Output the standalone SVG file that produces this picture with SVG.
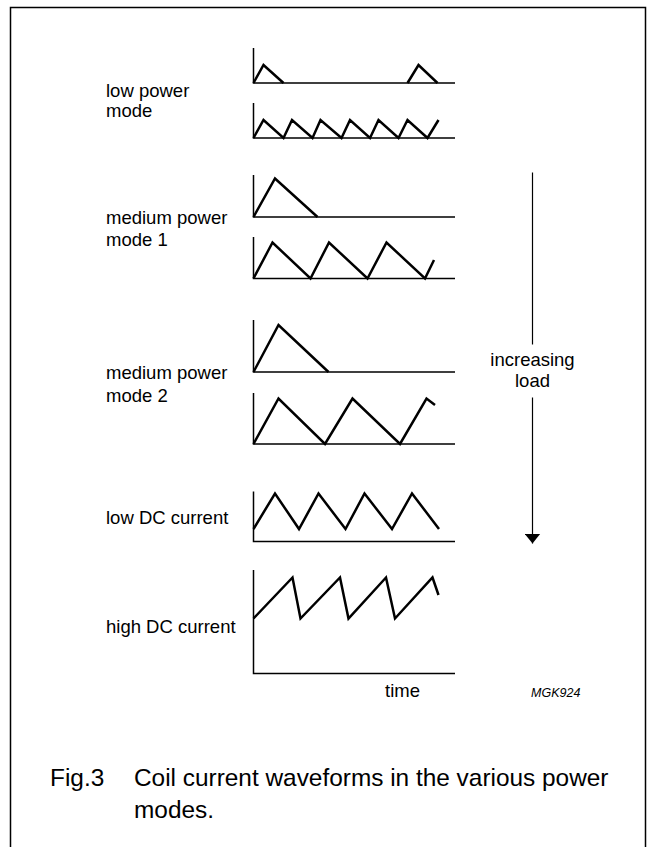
<svg xmlns="http://www.w3.org/2000/svg" width="653" height="847" viewBox="0 0 653 847">
<style>
.frame{fill:none;stroke:#000;stroke-width:1.5}
.axis{fill:none;stroke:#000;stroke-width:1.5}
.wave{fill:none;stroke:#000;stroke-width:2.5;stroke-linejoin:miter;stroke-linecap:butt}
.lbl{font-family:"Liberation Sans",Arial,sans-serif;font-size:18.5px;fill:#000}
.cap{font-family:"Liberation Sans",Arial,sans-serif;font-size:24.4px;fill:#000}
.code{font-family:"Liberation Sans",Arial,sans-serif;font-size:12.5px;font-style:italic;fill:#000}
.arr{fill:none;stroke:#000;stroke-width:1.2}
</style>
<defs>
<marker id="ah" viewBox="0 0 10 16" refX="10" refY="8" markerWidth="10" markerHeight="16" markerUnits="userSpaceOnUse" orient="auto">
<path d="M0,0 L10,8 L0,16 Z" fill="#000"/>
</marker>
</defs>
<rect width="653" height="847" fill="#fff"/>
<path class="frame" d="M10.5,850 V7.5 H645.5 V850"/>

<g id="label-low-power">
<text class="lbl" x="106" y="97">low power</text>
<text class="lbl" x="106" y="117">mode</text>
</g>
<g id="label-medium-1">
<text class="lbl" x="106" y="224">medium power</text>
<text class="lbl" x="106" y="246">mode 1</text>
</g>
<g id="label-medium-2">
<text class="lbl" x="106" y="379">medium power</text>
<text class="lbl" x="106" y="401.5">mode 2</text>
</g>
<g id="label-low-dc"><text class="lbl" x="106" y="524">low DC current</text></g>
<g id="label-high-dc"><text class="lbl" x="106" y="633">high DC current</text></g>

<g id="chart-low-power-a">
<path class="axis" d="M253.5,48 V83 H455"/>
<polyline class="wave" points="253.5,83 263.5,65 283.5,83"/>
<polyline class="wave" points="407.5,83 418.5,65 437.5,83"/>
</g>
<g id="chart-low-power-b">
<path class="axis" d="M253.5,103 V138 H455"/>
<polyline class="wave" points="253.5,138 263.5,120 283.5,138 292,120 312.5,138 320.5,120 341.5,138 350,120 370,138 378.5,120 398.5,138 407.5,120 427.5,138 438.5,120"/>
</g>
<g id="chart-medium-1-a">
<path class="axis" d="M253.5,175 V217 H455"/>
<polyline class="wave" points="253.5,217 275,178.5 317.5,217"/>
</g>
<g id="chart-medium-1-b">
<path class="axis" d="M253.5,237 V278.5 H455"/>
<polyline class="wave" points="253.5,278.5 272.5,242.5 310.5,278.5 329,242.5 367.5,278.5 386.5,242.5 425,278.5 434,260"/>
</g>
<g id="chart-medium-2-a">
<path class="axis" d="M253.5,320 V372 H455"/>
<polyline class="wave" points="253.5,372 278.5,325 328.5,372"/>
</g>
<g id="chart-medium-2-b">
<path class="axis" d="M253.5,393 V444 H455"/>
<polyline class="wave" points="253.5,444 278.5,398.5 325,444 352.5,398.5 400,444 426.5,398.5 435,405"/>
</g>
<g id="chart-low-dc">
<path class="axis" d="M253.5,491.5 V541.5 H455"/>
<polyline class="wave" points="253.5,529 275,493.5 299,529 318.5,493.5 345.5,529 364.5,493.5 392,529 412,493.5 439,529"/>
</g>
<g id="chart-high-dc">
<path class="axis" d="M253.5,570 V673.5 H455"/>
<polyline class="wave" points="253.5,618.5 292.5,577.5 300.5,618.5 340,577.5 348.5,618.5 386,577.5 395,618.5 432.5,577.5 438.5,595"/>
<text class="lbl" x="385" y="697">time</text>
</g>

<g id="connectors">
<line class="arr" x1="532.5" y1="172.5" x2="532.5" y2="344.5"/>
<line class="arr" x1="532.5" y1="397.5" x2="532.5" y2="543.5" marker-end="url(#ah)"/>
</g>
<g id="label-increasing-load">
<text class="lbl" x="532.5" y="366" text-anchor="middle">increasing</text>
<text class="lbl" x="532.5" y="386.5" text-anchor="middle">load</text>
</g>

<text class="code" x="531" y="697">MGK924</text>

<g id="caption">
<text class="cap" x="50" y="786">Fig.3</text>
<text class="cap" x="134" y="786">Coil current waveforms in the various power</text>
<text class="cap" x="134" y="818">modes.</text>
</g>
</svg>
